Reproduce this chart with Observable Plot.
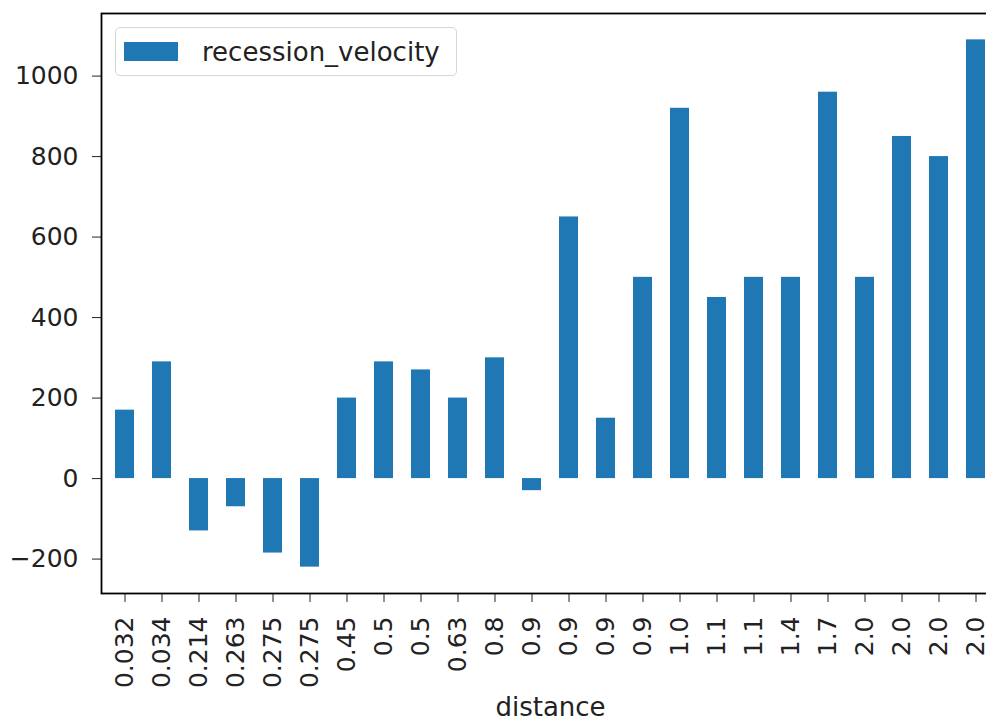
<!DOCTYPE html>
<html>
<head>
<meta charset="utf-8">
<script src="https://cdn.jsdelivr.net/npm/d3@7"></script>
<script src="https://cdn.jsdelivr.net/npm/@observablehq/plot@0.6"></script>
<style>
  html, body { margin: 0; padding: 0; background: #fff; overflow: hidden; }
  #wrap { position: relative; width: 986px; height: 722px; overflow: hidden; font-family: "DejaVu Sans", sans-serif; }
  #wrap svg { max-width: none !important; }
  #legend { position: absolute; left: 115px; top: 27px; width: 342px; height: 49px; box-sizing: border-box;
            border: 1.5px solid #d6d6d6; border-radius: 5px; background: rgba(255,255,255,0.8);
            display: flex; align-items: center; font-size: 26px; color: #222; white-space: nowrap; }
  #legend .sw { flex: none; width: 54px; height: 19px; background: #1f77b4; margin-left: 8px; margin-right: 24px; }
</style>
</head>
<body>
<div id="wrap"></div>
<script>
const distances = ["0.032","0.034","0.214","0.263","0.275","0.275","0.45","0.5","0.5","0.63","0.8","0.9","0.9","0.9","0.9","1.0","1.1","1.1","1.4","1.7","2.0","2.0","2.0","2.0"];
const velocities = [170, 290, -130, -70, -185, -220, 200, 290, 270, 200, 300, -30, 650, 150, 500, 920, 450, 500, 500, 960, 500, 850, 800, 1090];
const yTicks = [-200, 0, 200, 400, 600, 800, 1000];
const seriesName = "recession_velocity";
const xLabel = "distance";

const data = distances.map((d, i) => ({i, d, v: velocities[i]}));

const chart = Plot.plot({
  width: 1000,
  height: 722,
  marginLeft: 101,
  marginRight: 1,
  marginTop: 13,
  marginBottom: 129,
  style: {fontFamily: "DejaVu Sans, sans-serif", fontSize: "25px", color: "#222", background: "white", maxWidth: "none"},
  x: {
    type: "band",
    domain: d3.range(distances.length),
    paddingInner: 0.5,
    paddingOuter: 0.25,
    tickFormat: i => distances[i],
    tickRotate: -90,
    tickSize: 9,
    tickPadding: 14,
    label: xLabel,
    labelAnchor: "center",
    labelOffset: 122
  },
  y: {
    domain: [-285.5, 1155.5],
    ticks: yTicks,
    tickFormat: d3.format("d"),
    tickSize: 9,
    tickPadding: 14,
    label: null
  },
  marks: [
    Plot.barY(data, {x: "i", y: "v", fill: "#1f77b4"}),
    Plot.frame({stroke: "#000", strokeWidth: 1.8})
  ]
});
const wrap = document.getElementById("wrap");
wrap.appendChild(chart);
// enlarge axis label font to match reference
chart.querySelectorAll("[aria-label='x-axis label'] text, g[aria-label='x-axis'] > text, g[aria-label='x-axis label']").forEach(t => t.style.fontSize = "26px");
const lg = document.createElement("div");
lg.id = "legend";
lg.innerHTML = `<div class="sw"></div><span></span>`;
lg.querySelector("span").textContent = seriesName;
wrap.appendChild(lg);
</script>
</body>
</html>
